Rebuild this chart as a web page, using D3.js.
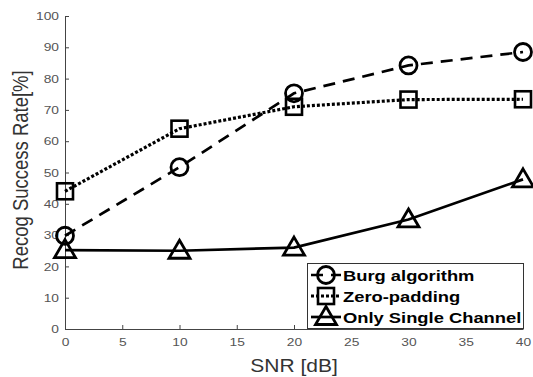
<!DOCTYPE html>
<html><head><meta charset="utf-8">
<script src="https://cdn.jsdelivr.net/npm/d3@7"></script>
<style>body{margin:0;background:#fff}svg{display:block}</style>
</head><body>
<svg id="c" width="533" height="377"></svg>
<script>
const snr = [0, 10, 20, 30, 40];
const burg = [29.8, 51.7, 75.3, 84.2, 88.5];
const zeroPad = [44.0, 64.0, 71.0, 73.3, 73.4];
const single = [25.2, 25.0, 26.0, 35.0, 47.8];
const xTicks = [0, 5, 10, 15, 20, 25, 30, 35, 40];
const yTicks = [0, 10, 20, 30, 40, 50, 60, 70, 80, 90, 100];
const seriesNames = ["Burg algorithm", "Zero-padding", "Only Single Channel"];

const SX = 1.2; // horizontal stretch of the original picture
const FONT = "Liberation Sans, Arial, sans-serif";
const svg = d3.select("#c");
const x = d3.scaleLinear().domain([0, 40]).range([65, 523]);
const y = d3.scaleLinear().domain([0, 100]).range([329, 16]);
const axCol = "#444";

const xa = svg.append("g").attr("transform", "translate(0,329)")
  .call(d3.axisBottom(x).tickValues(xTicks).tickSizeInner(-4).tickSizeOuter(0).tickPadding(9));
const ya = svg.append("g").attr("transform", "translate(65,0)")
  .call(d3.axisLeft(y).tickValues(yTicks).tickSizeInner(-4).tickSizeOuter(0).tickPadding(5));
[xa, ya].forEach(g => {
  g.select(".domain").attr("stroke", axCol).attr("stroke-width", 1);
  g.selectAll(".tick line").attr("stroke", axCol);
  g.selectAll(".tick text").attr("fill", "#555").attr("transform", `scale(${SX},1)`)
    .style("font-family", FONT).style("font-size", "11.5px");
});

svg.append("text").attr("transform", `translate(${x(20)},372) scale(${SX},1)`).attr("text-anchor", "middle")
  .attr("fill", "#333").style("font-family", FONT).style("font-size", "17.5px").text("SNR [dB]");
svg.append("text").attr("transform", `translate(28,170) scale(${SX},1) rotate(-90)`).attr("text-anchor", "middle")
  .attr("fill", "#333").style("font-family", FONT).style("font-size", "18.5px").text("Recog Success Rate[%]");

const styles = [
  {data: burg, dash: "12,8", w: 2.7, marker: "circle"},
  {data: zeroPad, dash: "3,2", w: 3.2, marker: "square"},
  {data: single, dash: null, w: 2.7, marker: "triangle"}
];
const line = d3.line().x(d => x(d[0])).y(d => y(d[1]));

function drawMarker(g, type, cx, cy) {
  if (type === "circle") {
    g.append("circle").attr("cx", cx).attr("cy", cy).attr("r", 8.5).attr("fill", "none").attr("stroke", "#000").attr("stroke-width", 2.8);
  } else if (type === "square") {
    g.append("rect").attr("x", cx - 8).attr("y", cy - 8).attr("width", 16).attr("height", 16).attr("fill", "none").attr("stroke", "#000").attr("stroke-width", 2.6);
  } else {
    g.append("path").attr("d", `M${cx},${cy - 10.5} L${cx + 10.5},${cy + 7.5} L${cx - 10.5},${cy + 7.5} Z`).attr("fill", "none").attr("stroke", "#000").attr("stroke-width", 2.8);
  }
}

styles.forEach(s => {
  const pts = snr.map((v, i) => [v, s.data[i]]);
  svg.append("path").attr("d", line(pts)).attr("fill", "none").attr("stroke", "#000")
    .attr("stroke-width", s.w).attr("stroke-dasharray", s.dash);
  const g = svg.append("g");
  pts.forEach(p => drawMarker(g, s.marker, x(p[0]), y(p[1])));
});

// legend
const lg = svg.append("g");
lg.append("rect").attr("x", 307.5).attr("y", 263.5).attr("width", 216).attr("height", 65)
  .attr("fill", "#fff").attr("stroke", "#333").attr("stroke-width", 1);
seriesNames.forEach((n, i) => {
  const cy = 275 + i * 21;
  const s = styles[i];
  lg.append("line").attr("x1", 311).attr("x2", 341).attr("y1", cy).attr("y2", cy)
    .attr("stroke", "#000").attr("stroke-width", s.w).attr("stroke-dasharray", s.dash);
  drawMarker(lg, s.marker, 326, cy);
  lg.append("text").attr("transform", `translate(343,${cy + 5.5}) scale(${SX},1)`).attr("fill", "#000")
    .style("font-family", FONT).style("font-size", "15.3px").style("font-weight", "bold").text(n);
});
</script>
</body></html>
